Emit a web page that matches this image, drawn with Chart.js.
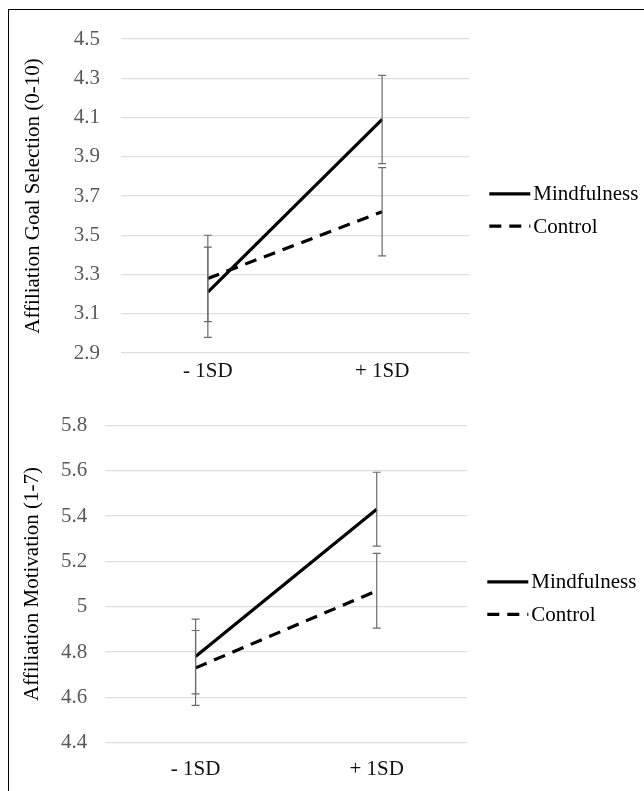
<!DOCTYPE html>
<html>
<head>
<meta charset="utf-8">
<script src="https://cdn.jsdelivr.net/npm/chart.js@4.4.1/dist/chart.umd.min.js"></script>
<style>
  html, body { margin: 0; padding: 0; background: #fff; }
  body { width: 644px; height: 791px; position: relative; overflow: hidden; font-family: 'Liberation Serif', serif; }
  .frame { position: absolute; left: 8px; top: 9px; width: 700px; height: 900px; border: 1.5px solid #000; }
  canvas { position: absolute; left: 0; }
  #goalChart { top: 0; }
  #motiveChart { top: 395px; }
</style>
</head>
<body>
<div class="frame"></div>
<canvas id="goalChart" width="644" height="395"></canvas>
<canvas id="motiveChart" width="644" height="396"></canvas>
<script>
const categories = ['- 1SD', '+ 1SD'];
const seriesNames = ['Mindfulness', 'Control'];

// top panel: affiliation goal selection (0-10)
const goalMindfulness = [3.21, 4.09];
const goalControl = [3.28, 3.62];
const goalMindfulnessErr = [0.23, 0.225];
const goalControlErr = [0.22, 0.225];
const goalTicks = [2.9, 3.1, 3.3, 3.5, 3.7, 3.9, 4.1, 4.3, 4.5];

// bottom panel: affiliation motivation (1-7)
const motiveMindfulness = [4.78, 5.43];
const motiveControl = [4.73, 5.07];
const motiveMindfulnessErr = [0.165, 0.163];
const motiveControlErr = [0.165, 0.165];
const motiveTicks = [4.4, 4.6, 4.8, 5, 5.2, 5.4, 5.6, 5.8];

const FONT = "'Liberation Serif', 'Times New Roman', serif";

// error bars drawn from the y scale
const errorBars = {
  id: 'errorBars',
  afterDatasetsDraw(chart, args, opts) {
    const ctx = chart.ctx;
    const y = chart.scales.y;
    ctx.save();
    ctx.strokeStyle = '#6b6b6b';
    ctx.lineWidth = 1.2;
    ctx.setLineDash([]);
    chart.data.datasets.forEach((ds, di) => {
      const meta = chart.getDatasetMeta(di);
      const errs = opts.errors[di];
      ds.data.forEach((v, i) => {
        const x = meta.data[i].x;
        const top = y.getPixelForValue(v + errs[i]);
        const bot = y.getPixelForValue(v - errs[i]);
        ctx.beginPath();
        ctx.moveTo(x, top); ctx.lineTo(x, bot);
        ctx.moveTo(x - 4, top); ctx.lineTo(x + 4, top);
        ctx.moveTo(x - 4, bot); ctx.lineTo(x + 4, bot);
        ctx.stroke();
      });
    });
    ctx.restore();
  }
};

// legend to the right of the plot, line samples like Excel
const sideLegend = {
  id: 'sideLegend',
  afterDraw(chart, args, opts) {
    const ctx = chart.ctx;
    const area = chart.chartArea;
    ctx.save();
    ctx.font = '21px ' + FONT;
    ctx.textBaseline = 'middle';
    ctx.fillStyle = '#000';
    chart.data.datasets.forEach((ds, di) => {
      const yy = area.top + area.height * opts.rows[di];
      const x0 = area.right + opts.offset;
      ctx.beginPath();
      ctx.strokeStyle = '#000';
      ctx.lineWidth = 3.2;
      ctx.setLineDash(ds.borderDash || []);
      ctx.moveTo(x0, yy);
      ctx.lineTo(x0 + 41, yy);
      ctx.stroke();
      ctx.fillText(ds.label, x0 + 44, yy + 1);
    });
    ctx.restore();
  }
};

function makeChart(id, cfg) {
  new Chart(document.getElementById(id), {
    type: 'line',
    data: {
      labels: categories,
      datasets: [
        { label: seriesNames[0], data: cfg.mind, borderColor: '#000', borderWidth: 3.2, pointRadius: 0, tension: 0 },
        { label: seriesNames[1], data: cfg.ctrl, borderColor: '#000', borderWidth: 3.2, borderDash: [12, 8], pointRadius: 0, tension: 0 }
      ]
    },
    options: {
      responsive: false,
      animation: false,
      layout: { padding: { top: cfg.padTop, right: cfg.padRight, bottom: 0, left: 0 } },
      plugins: {
        legend: { display: false },
        tooltip: { enabled: false },
        errorBars: { errors: cfg.errs },
        sideLegend: { offset: 20, rows: [0.493, 0.596] }
      },
      scales: {
        x: {
          offset: true,
          grid: { display: false },
          border: { display: false },
          ticks: { color: '#111', font: { family: FONT, size: 21 }, padding: cfg.xPad },
          afterFit: s => { s.height = cfg.xHeight; }
        },
        y: {
          min: cfg.ticks[0],
          max: cfg.ticks[cfg.ticks.length - 1],
          afterBuildTicks: s => { s.ticks = cfg.ticks.map(v => ({ value: v })); },
          afterFit: s => { s.width = cfg.yWidth; },
          grid: { color: '#dedede', lineWidth: 1.3, drawTicks: false },
          border: { display: false },
          ticks: {
            color: '#595959',
            font: { family: FONT, size: 21 },
            padding: cfg.yPad,
            callback: v => String(Number(v.toFixed(1)))
          },
          title: {
            display: true,
            text: cfg.title,
            color: '#000',
            font: { family: FONT, size: 21 },
            padding: { top: cfg.titlePad, bottom: 0 }
          }
        }
      }
    },
    plugins: [errorBars, sideLegend]
  });
}

makeChart('goalChart', {
  mind: goalMindfulness, ctrl: goalControl,
  errs: [goalMindfulnessErr, goalControlErr],
  ticks: goalTicks,
  title: 'Affiliation Goal Selection (0-10)',
  padTop: 39, padRight: 174.7, xHeight: 42, xPad: -2,
  yWidth: 120.7, yPad: 20.7, titlePad: 20.4
});

makeChart('motiveChart', {
  mind: motiveMindfulness, ctrl: motiveControl,
  errs: [motiveMindfulnessErr, motiveControlErr],
  ticks: motiveTicks,
  title: 'Affiliation Motivation (1-7)',
  padTop: 29, padRight: 176.7, xHeight: 48.3, xPad: 6,
  yWidth: 105, yPad: 17.7, titlePad: 19.4
});
</script>
</body>
</html>
